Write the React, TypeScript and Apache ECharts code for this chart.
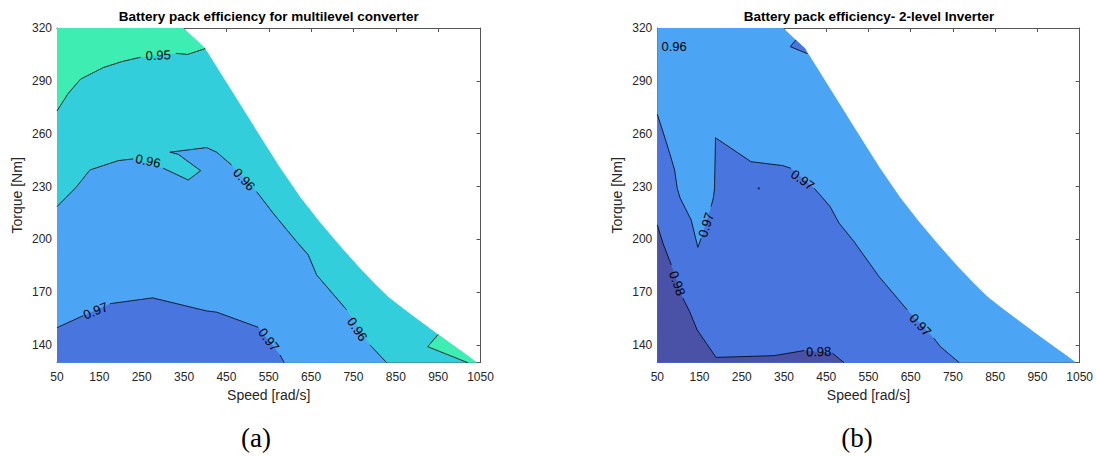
import React, { useEffect, useRef } from 'react';
import * as echarts from 'echarts';

// ---- axis ticks ----
const speedTicks = [50, 150, 250, 350, 450, 550, 650, 750, 850, 950, 1050];
const torqueTicks = [140, 170, 200, 230, 260, 290, 320];

// ---- operating-region limit (max torque vs speed), shared by both maps ----
const maxTorqueCurve = [
  [50, 320], [348, 320], [400, 308.3], [526, 260], [576, 241], [626, 223.5], [670, 210],
  [714, 197.5], [760, 185], [800, 175], [832, 167.5], [866, 161], [900, 155], [950, 146],
  [990, 139], [1020, 134], [1042, 130],
];

// ---- (a) multilevel converter: contour lines (segments split at labels) ----
const a095Top = [
  [[50, 272.9], [76.5, 282.9], [105.7, 291], [159, 297.5], [202.6, 300.9], [247.4, 303.4]],
  [[330.8, 305.6], [358.4, 305], [400, 308.3]],
];
const a095Bottom = [[[950, 146], [925.3, 139.1], [1020, 130]]];
const a096 = [
  [[50, 218.6], [70, 223.5], [94.6, 229.4], [127.7, 239.4], [194.6, 244.7], [230, 245.7]],
  [[300.8, 240.4], [359.9, 233.7], [389.2, 239], [336.3, 248.3], [316.6, 249.5], [403.3, 252.1], [427, 249.5], [462.4, 242.2]],
  [[521.4, 227.1], [560.6, 214.8], [615.9, 198.7], [643.3, 191.2], [663.1, 179.8], [734, 160]],
  [[789, 140.1], [828.5, 130]],
];
const a097 = [
  [[50, 149.9], [111.9, 156.7]],
  [[175, 163.5], [275.8, 166.8], [403.3, 159.4], [427, 158.7], [525.2, 150.1]],
  [[576.5, 134.4], [586.6, 130]],
];
const aLabelPos = [[289, 304.5], [265, 244.5], [492, 234], [759, 149], [141, 159.5], [550, 143]];
const aLabelText = ['0.95', '0.96', '0.96', '0.96', '0.97', '0.97'];
const aLabelAngle = [2, -12, -47, -56, 22, -52];

// ---- (b) 2-level inverter ----
const b097Top = [[[378, 313.2], [364.8, 309.4], [405.7, 305.4]]];
const b097 = [
  [[50, 271], [65.8, 259.3], [79.3, 248.9], [91, 239.4], [97.2, 229], [104, 223.5], [130.2, 211], [146, 195.5], [153.8, 200.6]],
  [[177.4, 218.6], [183, 224], [185.5, 229], [187.8, 257.7], [271.9, 244.1], [346.7, 241.9], [366.3, 240.4]],
  [[421.5, 229], [440, 224], [459.2, 218.6], [480.5, 209.2], [515, 199], [574.9, 178.9], [641.7, 160]],
  [[704.7, 143.9], [720.3, 139.1], [765.1, 130]],
];
const b098 = [
  [[50, 208.2], [63.5, 197.8], [83, 185.5]],
  [[110.7, 166.6], [126.5, 159], [144.4, 148.6], [189.2, 133], [327.1, 134], [397.9, 136.9]],
  [[464.7, 135.4], [492.3, 130]],
];
const bDot = [[290, 229]];
const bLabelPos = [[89.9, 309.4], [165.6, 208.2], [393.9, 233.7], [673.1, 151.4], [97.2, 175.1], [432, 136.3]];
const bLabelText = ['0.96', '0.97', '0.97', '0.97', '0.98', '0.98'];
const bLabelAngle = [0, 72, -36, -47, -70, 2];

// ---- styling ----
const FONT = '"Liberation Sans", Arial, Helvetica, sans-serif';
const SERIF = '"Liberation Serif", "Times New Roman", serif';
const C_LT095 = '#3EEDB1';
const C_095 = '#33CEDB';
const C_096 = '#4CA4F5';
const C_097 = '#4876DE';
const C_098 = '#4A52A8';
const AXIS = '#555555';
const TXT = '#262626';

const flat = (segs: number[][][]) => segs.reduce((acc: number[][], s) => acc.concat(s), []);
const feasible = [[50, 130], ...maxTorqueCurve];

function polySeries(points: number[][], color: string, gi: number, z: number) {
  return {
    type: 'custom', coordinateSystem: 'cartesian2d', xAxisIndex: gi * 2, yAxisIndex: gi * 2,
    silent: true, z, clip: true, data: [[points[0][0], points[0][1]]],
    renderItem: (_p: any, api: any) => ({
      type: 'polygon',
      shape: { points: points.map((p) => api.coord(p)) },
      style: { fill: color },
    }),
  };
}
function lineSeries(segs: number[][][], gi: number) {
  return segs.map((seg) => ({
    type: 'line', xAxisIndex: gi * 2, yAxisIndex: gi * 2, data: seg, symbol: 'none', silent: true,
    z: 5, clip: true, lineStyle: { color: '#000', width: 0.8 },
  }));
}
function labelSeries(pos: number[][], text: string[], angle: number[], gi: number) {
  return {
    type: 'custom', coordinateSystem: 'cartesian2d', xAxisIndex: gi * 2, yAxisIndex: gi * 2,
    silent: true, z: 6, data: pos,
    renderItem: (params: any, api: any) => {
      const p = api.coord([api.value(0), api.value(1)]);
      return {
        type: 'text', x: p[0], y: p[1], rotation: (angle[params.dataIndex] * Math.PI) / 180,
        style: { text: text[params.dataIndex], fontSize: 13, fontFamily: FONT, fill: '#000', align: 'center', verticalAlign: 'middle' },
      };
    },
  };
}
const plain = (v: number) => String(v);
function xAxes(gi: number) {
  const common = {
    gridIndex: gi, type: 'value', min: 50, max: 1050,
    axisLine: { show: true, onZero: false, lineStyle: { color: AXIS, width: 1 } },
    axisTick: { show: true, inside: true, length: 4, customValues: speedTicks, lineStyle: { color: AXIS } },
    splitLine: { show: false },
  };
  return [
    {
      ...common, position: 'bottom', name: 'Speed [rad/s]', nameLocation: 'middle', nameGap: 25,
      nameTextStyle: { fontSize: 14, color: TXT, fontFamily: FONT },
      axisLabel: { customValues: speedTicks, formatter: plain, fontSize: 12, color: TXT, fontFamily: FONT, margin: 8 },
    },
    { ...common, position: 'top', axisLabel: { show: false } },
  ];
}
function yAxes(gi: number) {
  const common = {
    gridIndex: gi, type: 'value', min: 130, max: 320,
    axisLine: { show: true, onZero: false, lineStyle: { color: AXIS, width: 1 } },
    axisTick: { show: true, inside: true, length: 4, customValues: torqueTicks, lineStyle: { color: AXIS } },
    splitLine: { show: false },
  };
  return [
    {
      ...common, position: 'left', name: 'Torque [Nm]', nameLocation: 'middle', nameGap: 33,
      nameTextStyle: { fontSize: 14, color: TXT, fontFamily: FONT },
      axisLabel: { customValues: torqueTicks, formatter: plain, fontSize: 12, color: TXT, fontFamily: FONT, margin: 5 },
    },
    { ...common, position: 'right', axisLabel: { show: false } },
  ];
}

export default function App() {
  const ref = useRef<HTMLDivElement>(null);
  useEffect(() => {
    document.body.style.margin = '0';
    if (!ref.current) return;
    const chart = echarts.init(ref.current, undefined, { renderer: 'svg' });
    const gridW = 423.5;
    const option: any = {
      animation: false,
      backgroundColor: '#fff',
      grid: [
        { left: 57, top: 28, width: gridW, height: 334.7 },
        { left: 657.3, top: 28, width: gridW, height: 334.7 },
      ],
      xAxis: [...xAxes(0), ...xAxes(1)],
      yAxis: [...yAxes(0), ...yAxes(1)],
      graphic: [
        { type: 'text', x: 57 + gridW / 2, y: 16, style: { text: 'Battery pack efficiency for multilevel converter', align: 'center', verticalAlign: 'middle', fontSize: 13.5, fontWeight: 'bold', fontFamily: FONT, fill: '#000' } },
        { type: 'text', x: 657.3 + gridW / 2, y: 16, style: { text: 'Battery pack efficiency- 2-level Inverter', align: 'center', verticalAlign: 'middle', fontSize: 13.5, fontWeight: 'bold', fontFamily: FONT, fill: '#000' } },
        { type: 'text', x: 256, y: 438, style: { text: '(a)', align: 'center', verticalAlign: 'middle', fontSize: 27, fontFamily: SERIF, fill: '#000' } },
        { type: 'text', x: 857, y: 438, style: { text: '(b)', align: 'center', verticalAlign: 'middle', fontSize: 27, fontFamily: SERIF, fill: '#000' } },
      ],
      series: [
        // (a) filled regions, painted in order
        polySeries(feasible, C_095, 0, 1),
        polySeries([[50, 320], [348, 320], ...flat(a095Top).slice().reverse()], C_LT095, 0, 2),
        polySeries([...flat(a095Bottom), ...maxTorqueCurve.filter((p) => p[0] > 950).reverse()], C_LT095, 0, 2),
        polySeries([[50, 130], ...flat(a096)], C_096, 0, 3),
        polySeries([[50, 130], ...flat(a097)], C_097, 0, 4),
        ...lineSeries(a095Top, 0),
        ...lineSeries(a095Bottom, 0),
        ...lineSeries(a096, 0),
        ...lineSeries(a097, 0),
        labelSeries(aLabelPos, aLabelText, aLabelAngle, 0),
        // (b)
        polySeries(feasible, C_096, 1, 1),
        polySeries([[50, 130], ...flat(b097)], C_097, 1, 3),
        polySeries([...flat(b097Top), ...maxTorqueCurve.filter((p) => p[0] > 378 && p[0] < 405.7).reverse()], C_097, 1, 3),
        polySeries([[50, 130], ...flat(b098)], C_098, 1, 4),
        ...lineSeries(b097Top, 1),
        ...lineSeries(b097, 1),
        ...lineSeries(b098, 1),
        {
          type: 'scatter', xAxisIndex: 2, yAxisIndex: 2, data: bDot, symbolSize: 2, silent: true, z: 5,
          itemStyle: { color: '#000' },
        },
        labelSeries(bLabelPos, bLabelText, bLabelAngle, 1),
      ],
    };
    chart.setOption(option);
    return () => chart.dispose();
  }, []);
  return <div ref={ref} style={{ width: 1096, height: 456 }} />;
}
